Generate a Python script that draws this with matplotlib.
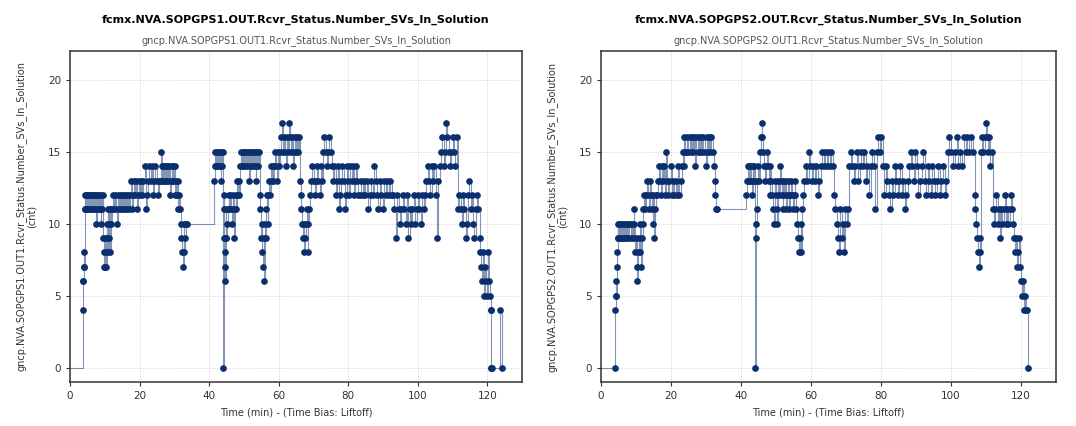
import matplotlib
matplotlib.use("Agg")
import matplotlib.pyplot as plt
import numpy as np

# (start min, end min)
gps1_segments = [
    (-5.0, 3.6, "0"),
    (3.6, 4.4, "4 6 6 7 8 7 11 12"),
    (4.4, 9.6, "11 12 11 12 11 12 11 12 11 12 11 12 11 12 11 12 10 12 11 12 11 12 11 10 12 11 12"),
    (9.6, 12.0, "9 7 8 7 9 8 7 10 9 11 8 9 10 11 10 8 11 10"),
    (12.0, 16.3, "11 12 11 12 11 10 12 11 12 11 12 11 12 11 12"),
    (16.3, 20.1, "11 12 11 12 13 11 12 13 12 13 11 12 13"),
    (20.1, 25.9, "12 13 12 13 14 11 12 13 14 13 14 12 13 14 13 12 13"),
    (25.9, 31.6, "13 15 14 13 14 13 14 13 14 13 14 13 14 12 13 14 13 14 13 14 12 13 12 13 11 12"),
    (31.6, 33.5, "11 10 9 8 7 10 8 9 10"),
    (33.5, 41.4, "10"),
    (41.4, 44.1, "13 14 15 14 15 14 15 14 15 14 13 15 14 15"),
    (44.1, 45.0, "0 12 11 9 8 7 6 9 11"),
    (45.0, 48.9, "9 10 11 12 11 12 11 10 11 12 9 11 12 11 13 12 13 12"),
    (48.9, 54.6, "14 15 14 15 14 15 14 15 14 15 13 15 14 15 14 15 14 15 13 14 15 14 15"),
    (54.6, 57.0, "12 11 9 10 8 7 9 6 10 9 11 12 10"),
    (57.0, 60.3, "12 13 12 14 13 14 13 14 15 14 13 15 14"),
    (60.3, 66.1, "15 16 17 15 16 15 14 16 15 17 16 15 16 14 15 16 15 16 15 16"),
    (66.1, 69.0, "13 12 11 10 9 10 8 9 10 11 8 10 11"),
    (69.0, 72.8, "12 13 14 13 12 13 14 13 12 14 13"),
    (72.8, 75.7, "15 16 15 14 15 16 15 14"),
    (75.7, 83.3, "13 14 12 13 14 11 12 13 14 13 11 12 14 13 12 14 13 14 12 13 14 13 12"),
    (83.3, 92.9, "12 13 12 13 12 13 11 12 13 12 14 13 12 11 13 12 11 13 12 13 12 13 12"),
    (92.9, 102.5, "12 11 9 12 11 10 11 12 11 10 12 9 11 10 11 12 10 11 12 11 10 12 11 12"),
    (102.5, 111.6, "13 14 13 12 14 13 14 12 9 13 14 15 16 14 15 17 16 15 14 15 16 15 14 16"),
    (111.6, 117.8, "11 12 11 10 12 11 9 10 12 13 11 12 10 9 11 12 11"),
    (117.8, 121.0, "9 8 7 6 8 5 7 6 5 8 6 5"),
    (121.0, 121.3, "4 0 4 0"),
    (121.3, 123.6, "0"),
    (123.6, 124.3, "4"),
    (124.3, 124.4, "0"),
]

gps2_segments = [
    (-5.0, 4.0, "0"),
    (4.0, 4.9, "0 4 5 6 5 7 8 9 10"),
    (4.9, 9.3, "9 10 9 10 9 10 9 10 9 10 9 10 9 10 10 9 10 9"),
    (9.3, 12.1, "11 10 8 9 7 6 8 9 8 10 7 9 10"),
    (12.1, 16.0, "11 12 11 12 13 12 11 13 12 11 10 12 9 11 12"),
    (16.0, 18.8, "12 13 14 13 12 14 13 14 12 15"),
    (18.8, 23.1, "13 12 13 14 12 13 12 13 12 14 12 13"),
    (23.1, 24.3, "14 15 14 16 15"),
    (24.3, 32.2, "15 16 15 16 15 16 15 16 14 16 15 16 15 16 15 16 15 14 16 15 16 15 16 15"),
    (32.2, 33.1, "14 13 12 11"),
    (33.1, 41.5, "11"),
    (41.5, 44.1, "12 13 14 13 14 13 14 13 12 14 13 14 13"),
    (44.1, 44.6, "0 9 10 11"),
    (44.6, 48.9, "13 14 13 15 16 17 16 15 14 13 14 15 14 13 12 14 13"),
    (48.9, 58.0, "12 11 10 13 12 11 10 13 12 14 13 12 11 13 12 13 11 12 13 12 11 12 13 12 11 12 13 12 11 10 9 8 9 10 8 11 12"),
    (58.0, 66.6, "13 14 13 15 14 13 14 13 14 12 13 14 15 14 15 14 15 14 15 14"),
    (66.6, 70.9, "12 11 10 9 8 11 9 10 8 11 10 11"),
    (70.9, 80.9, "14 15 14 13 14 15 13 14 15 14 15 13 14 12 14 15 14 11 15 16 15 16 14"),
    (80.9, 88.5, "12 14 13 12 11 13 12 14 13 12 13 14 12 13 11 12 13 14"),
    (88.5, 99.0, "15 14 13 15 14 12 13 14 15 13 12 14 13 12 14 13 12 13 14 12 13 14 12 13"),
    (99.0, 106.7, "15 16 15 14 15 16 14 15 14 16 15 16 15 16 15"),
    (106.7, 108.6, "12 11 10 9 8 7 9 8"),
    (108.6, 111.9, "15 16 15 16 17 16 15 16 14 15"),
    (111.9, 118.1, "11 10 11 12 10 11 9 11 10 11 12 10 11 10 11 12 11 10"),
    (118.1, 120.0, "9 8 9 7 8 9 7"),
    (120.0, 122.0, "6 5 6 4 5 4 4"),
    (122.0, 122.1, "0"),
]

titles = ["fcmx.NVA.SOPGPS1.OUT.Rcvr_Status.Number_SVs_In_Solution",
          "fcmx.NVA.SOPGPS2.OUT.Rcvr_Status.Number_SVs_In_Solution"]
subtitles = ["gncp.NVA.SOPGPS1.OUT1.Rcvr_Status.Number_SVs_In_Solution",
             "gncp.NVA.SOPGPS2.OUT1.Rcvr_Status.Number_SVs_In_Solution"]
xticks = [0, 20, 40, 60, 80, 100, 120]
yticks = [0, 5, 10, 15, 20]


def build(segments):
    t, v = [], []
    for t0, t1, vals in segments:
        vals = [int(s) for s in vals.split()]
        t.extend(np.linspace(t0, t1, len(vals), endpoint=False))
        v.extend(vals)
    return np.array(t), np.array(v)


navy = "#0b2f6e"
fig = plt.figure(figsize=(10.76, 4.26), dpi=100)
boxes = [[0.0651, 0.1033, 0.420, 0.777], [0.5586, 0.1033, 0.4229, 0.777]]

for i, segs in enumerate([gps1_segments, gps2_segments]):
    ax = fig.add_axes(boxes[i])
    t, v = build(segs)
    ax.plot(t, v, drawstyle="steps-post", color=navy, lw=0.8, alpha=0.5, zorder=2)
    ax.plot(t, v, ls="none", marker="o", ms=3.8, color=navy, zorder=3)
    ax.set_xlim(0, 130)
    ax.set_ylim(-1, 22)
    ax.set_xticks(xticks)
    ax.set_yticks(yticks)
    ax.grid(True, color="#cfcfcf", ls=":", lw=0.7)
    ax.tick_params(labelsize=7.5, colors="#333333", length=3)
    for s in ax.spines.values():
        s.set_color("#333333")
        s.set_linewidth(1.1)
    ax.set_xlabel("Time (min) - (Time Bias: Liftoff)", fontsize=7, color="#333333", labelpad=5)
    ax.set_ylabel(subtitles[i] + "\n(cnt)", fontsize=7, color="#333333", labelpad=8, linespacing=1.0)
    ax.text(0.5, 1.094, titles[i], transform=ax.transAxes, ha="center", va="center",
            fontsize=8, fontweight="bold", color="black")
    ax.text(0.5, 1.033, subtitles[i], transform=ax.transAxes, ha="center", va="center",
            fontsize=7, color="#555555")

fig.savefig("out.png", dpi=100)
